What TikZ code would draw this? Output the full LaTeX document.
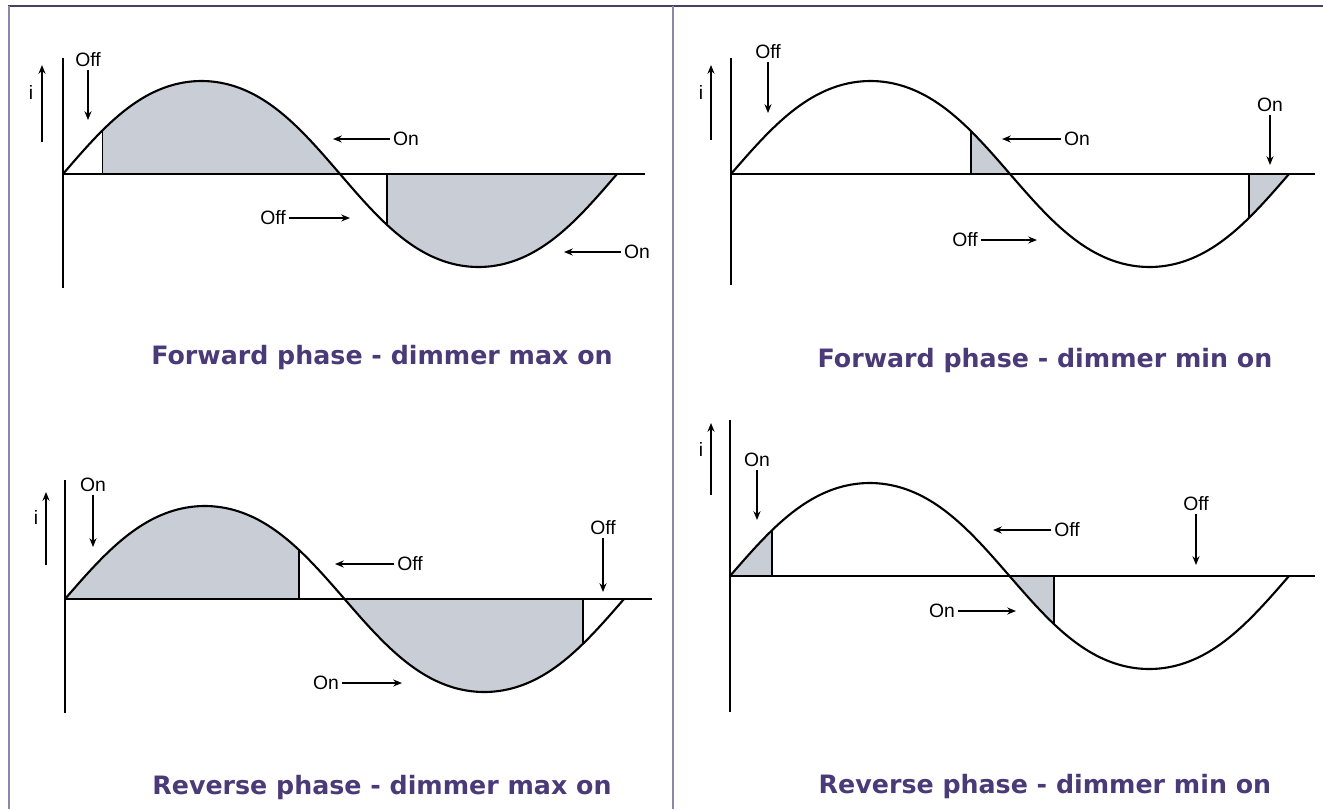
\documentclass[tikz,border=0pt]{standalone}
\usepackage{fontspec}
\setmainfont{Liberation Sans}
\newfontfamily\titlefont{DejaVu Sans}
\usepackage{xcolor}
\usetikzlibrary{arrows.meta}
\definecolor{framepurple}{HTML}{4A3F5E}
\definecolor{dividergray}{HTML}{8E86A6}
\definecolor{titlepurple}{HTML}{4A3A78}
\definecolor{onfill}{HTML}{C9CDD6}

\tikzset{
    wave/.style={line width=1.2pt},
    axisline/.style={line width=0.9pt},
    cutline/.style={line width=0.7pt},
    ptr/.style={-{Stealth[length=5pt,width=4pt]}, line width=0.7pt},
    lbl/.style={font=\fontsize{11}{12}\selectfont, inner sep=1.5pt},
    caption/.style={font=\titlefont\bfseries\fontsize{14.4}{16}\selectfont, text=titlepurple},
}

\begin{document}
\begin{tikzpicture}[x=0.02cm, y=-0.02cm,
    declare function={wv(\t,\p)=-93*(sin(\t/\p*360)+0.025*sin(\t/\p*1080))/0.975;}]
    \useasboundingbox (0,0) rectangle (1323,809);

    % Frame and divider
    \draw[framepurple, line width=1.7pt] (8,6) -- (1323,6);
    \draw[dividergray, line width=1.6pt] (9,6) -- (9,809);
    \draw[dividergray, line width=1.6pt] (673,6) -- (673,809);

    % Forward phase - max on
    \begin{scope}[shift={(63,174)}]
        \def\per{554}
        \fill[onfill] (39.5,0) -- plot[domain=39.5:277, samples=40] (\x,{wv(\x,\per)}) -- (277,0) -- cycle;
        \fill[onfill] (324,0) -- plot[domain=324:554, samples=40] (\x,{wv(\x,\per)}) -- (554,0) -- cycle;
        \draw[cutline] (39.5,0) -- (39.5,{wv(39.5,\per)});
        \draw[cutline] (324,0) -- (324,{wv(324,\per)});
        \draw[axisline] (0,-116) -- (0,114);
        \draw[axisline] (0,0) -- (582,0);
        \draw[wave] plot[domain=0:554, samples=111, smooth] (\x,{wv(\x,\per)});
    \end{scope}
    \coordinate (iLo1) at (42,142);
    \coordinate (iHi1) at (42,65);
    \draw[ptr] (iLo1) -- (iHi1);
    \node[lbl] (i1) at (31,92) {i};
    \node[lbl] (offA1) at (88,60) {Off};
    \coordinate (offA1tip) at (88,120);
    \draw[ptr] (offA1) -- (offA1tip);
    \node[lbl] (onA1) at (406,139) {On};
    \coordinate (onA1tip) at (333,139);
    \draw[ptr] (onA1) -- (onA1tip);
    \node[lbl] (offB1) at (273,218) {Off};
    \coordinate (offB1tip) at (350,218);
    \draw[ptr] (offB1) -- (offB1tip);
    \node[lbl] (onB1) at (637,252) {On};
    \coordinate (onB1tip) at (564,252);
    \draw[ptr] (onB1) -- (onB1tip);
    \node[caption] (title1) at (382,358) {Forward phase - dimmer max on};

    % Forward phase - min on
    \begin{scope}[shift={(731,174)}]
        \def\per{558}
        \fill[onfill] (240,0) -- plot[domain=240:279, samples=20] (\x,{wv(\x,\per)}) -- (279,0) -- cycle;
        \fill[onfill] (518,0) -- plot[domain=518:558, samples=20] (\x,{wv(\x,\per)}) -- (558,0) -- cycle;
        \draw[cutline] (240,0) -- (240,{wv(240,\per)});
        \draw[cutline] (518,0) -- (518,{wv(518,\per)});
        \draw[axisline] (0,-116) -- (0,111);
        \draw[axisline] (0,0) -- (584,0);
        \draw[wave] plot[domain=0:558, samples=111, smooth] (\x,{wv(\x,\per)});
    \end{scope}
    \coordinate (iLo2) at (711,140);
    \coordinate (iHi2) at (711,65);
    \draw[ptr] (iLo2) -- (iHi2);
    \node[lbl] (i2) at (701,92) {i};
    \node[lbl] (offA2) at (768,52) {Off};
    \coordinate (offA2tip) at (768,113);
    \draw[ptr] (offA2) -- (offA2tip);
    \node[lbl] (onA2) at (1077,139) {On};
    \coordinate (onA2tip) at (1002,139);
    \draw[ptr] (onA2) -- (onA2tip);
    \node[lbl] (offB2) at (965,240) {Off};
    \coordinate (offB2tip) at (1037,240);
    \draw[ptr] (offB2) -- (offB2tip);
    \node[lbl] (onB2) at (1270,105) {On};
    \coordinate (onB2tip) at (1270,165);
    \draw[ptr] (onB2) -- (onB2tip);
    \node[caption] (title2) at (1045,361) {Forward phase - dimmer min on};

    % Reverse phase - max on
    \begin{scope}[shift={(65,599)}]
        \def\per{559}
        \fill[onfill] (0,0) -- plot[domain=0:234, samples=40] (\x,{wv(\x,\per)}) -- (234,0) -- cycle;
        \fill[onfill] (279.5,0) -- plot[domain=279.5:518, samples=40] (\x,{wv(\x,\per)}) -- (518,0) -- cycle;
        \draw[cutline] (234,0) -- (234,{wv(234,\per)});
        \draw[cutline] (518,0) -- (518,{wv(518,\per)});
        \draw[axisline] (0,-119) -- (0,114);
        \draw[axisline] (0,0) -- (587,0);
        \draw[wave] plot[domain=0:559, samples=111, smooth] (\x,{wv(\x,\per)});
    \end{scope}
    \coordinate (iLo3) at (46,565);
    \coordinate (iHi3) at (46,492);
    \draw[ptr] (iLo3) -- (iHi3);
    \node[lbl] (i3) at (36,517) {i};
    \node[lbl] (onA3) at (93,485) {On};
    \coordinate (onA3tip) at (93,547);
    \draw[ptr] (onA3) -- (onA3tip);
    \node[lbl] (offA3) at (410,564) {Off};
    \coordinate (offA3tip) at (335,564);
    \draw[ptr] (offA3) -- (offA3tip);
    \node[lbl] (offB3) at (603,528) {Off};
    \coordinate (offB3tip) at (603,592);
    \draw[ptr] (offB3) -- (offB3tip);
    \node[lbl] (onB3) at (326,683) {On};
    \coordinate (onB3tip) at (402,683);
    \draw[ptr] (onB3) -- (onB3tip);
    \node[caption] (title3) at (382,788) {Reverse phase - dimmer max on};

    % Reverse phase - min on
    \begin{scope}[shift={(730,576)}]
        \def\per{559}
        \fill[onfill] (0,0) -- plot[domain=0:42, samples=20] (\x,{wv(\x,\per)}) -- (42,0) -- cycle;
        \fill[onfill] (279.5,0) -- plot[domain=279.5:324, samples=20] (\x,{wv(\x,\per)}) -- (324,0) -- cycle;
        \draw[cutline] (42,0) -- (42,{wv(42,\per)});
        \draw[cutline] (324,0) -- (324,{wv(324,\per)});
        \draw[axisline] (0,-156) -- (0,136);
        \draw[axisline] (0,0) -- (585,0);
        \draw[wave] plot[domain=0:559, samples=111, smooth] (\x,{wv(\x,\per)});
    \end{scope}
    \coordinate (iLo4) at (711,495);
    \coordinate (iHi4) at (711,423);
    \draw[ptr] (iLo4) -- (iHi4);
    \node[lbl] (i4) at (701,449) {i};
    \node[lbl] (onA4) at (757,460) {On};
    \coordinate (onA4tip) at (757,520);
    \draw[ptr] (onA4) -- (onA4tip);
    \node[lbl] (offA4) at (1067,530) {Off};
    \coordinate (offA4tip) at (993,530);
    \draw[ptr] (offA4) -- (offA4tip);
    \node[lbl] (offB4) at (1196,504) {Off};
    \coordinate (offB4tip) at (1196,565);
    \draw[ptr] (offB4) -- (offB4tip);
    \node[lbl] (onB4) at (942,611) {On};
    \coordinate (onB4tip) at (1016,611);
    \draw[ptr] (onB4) -- (onB4tip);
    \node[caption] (title4) at (1045,787) {Reverse phase - dimmer min on};
\end{tikzpicture}
\end{document}
